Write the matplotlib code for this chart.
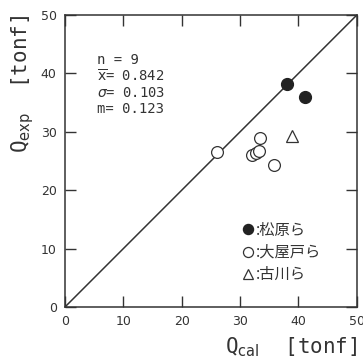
import numpy as np
import matplotlib.pyplot as plt

plt.rcParams['font.family'] = ['DejaVu Sans', 'Noto Sans CJK JP']

# Données
matsubara_x = [38.0, 41.1]
matsubara_y = [38.2, 36.0]
oyado_x = [26.0, 33.4, 32.0, 32.7, 33.3, 35.8]
oyado_y = [26.6, 29.0, 26.1, 26.4, 26.7, 24.4]
furukawa_x = [38.9]
furukawa_y = [29.3]
stats_lines = ["n = 9", r"$\overline{\mathrm{x}}$= 0.842", r"$\sigma$= 0.103", "m= 0.123"]
ticks = [0, 10, 20, 30, 40, 50]

gris = '#333333'

fig = plt.figure(figsize=(3.63, 3.58), dpi=100)
ax = fig.add_axes([0.179, 0.1425, 0.804, 0.8155])

ax.plot([0, 50], [0, 50], color=gris, lw=1.1, zorder=1)
ax.plot(matsubara_x, matsubara_y, 'o', color='#222222', ms=8.5, ls='none', label=':松原ら', zorder=3)
ax.plot(oyado_x, oyado_y, 'o', mfc='white', mec=gris, mew=0.9, ms=8.5, ls='none', label=':大屋戸ら', zorder=3)
ax.plot(furukawa_x, furukawa_y, '^', mfc='white', mec=gris, mew=0.9, ms=8.5, ls='none', label=':古川ら', zorder=3)

ax.set_xlim(0, 50)
ax.set_ylim(0, 50)
ax.set_xticks(ticks)
ax.set_yticks(ticks)
ax.tick_params(direction='in', length=8, width=1, top=True, right=True, labelsize=9, colors=gris, pad=6)
for s in ax.spines.values():
    s.set_color(gris)
    s.set_linewidth(1.1)

# Statistiques
for i, t in enumerate(stats_lines):
    ax.text(0.11, 0.845 - i * 0.056, t, transform=ax.transAxes, fontsize=10, color=gris,
            va='center', family='DejaVu Sans Mono')

leg = ax.legend(loc='lower left', bbox_to_anchor=(0.585, 0.055), frameon=False,
                handlelength=0.6, handletextpad=0.2, labelspacing=0.35, markerscale=0.85,
                borderpad=0, prop={'family': ['Noto Sans CJK JP'], 'size': 11})
for t in leg.get_texts():
    t.set_color(gris)

ax.set_xlabel(r"Q$_{\mathrm{cal}}$  [tonf]", loc='right', fontsize=15, color=gris, family='DejaVu Sans Mono', labelpad=5)
ax.set_ylabel(r"Q$_{\mathrm{exp}}$  [tonf]", loc='top', fontsize=15, color=gris, family='DejaVu Sans Mono', labelpad=3)

fig.savefig('out.png', dpi=100)
